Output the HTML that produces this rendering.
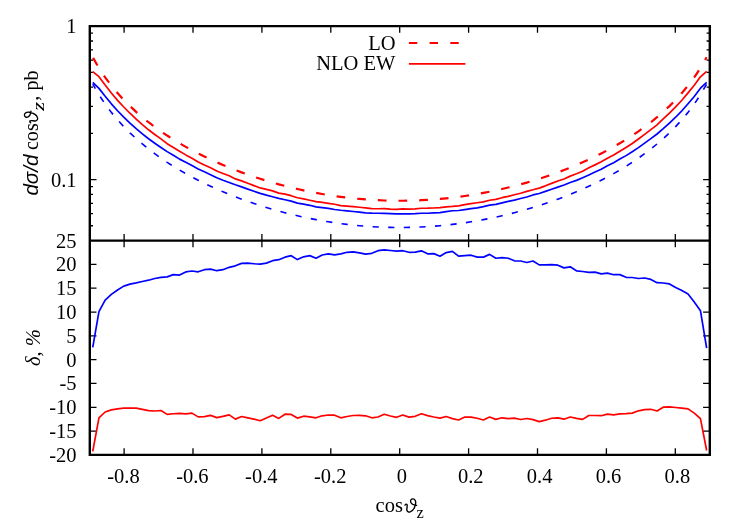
<!DOCTYPE html><html><head><meta charset="utf-8"><title>plot</title><style>html,body{margin:0;padding:0;background:#fff}svg{display:block;will-change:transform}text{font-family:"Liberation Serif",serif;fill:#000}.sn{font-family:"Liberation Sans",sans-serif;font-style:italic}</style></head><body>
<svg width="747" height="523" viewBox="0 0 747 523">
<rect width="747" height="523" fill="#fff"/>
<path d="M124.10 26.15v6.70M124.10 233.90v13.40M124.10 454.90v-6.70M193.00 26.15v6.70M193.00 233.90v13.40M193.00 454.90v-6.70M261.90 26.15v6.70M261.90 233.90v13.40M261.90 454.90v-6.70M330.80 26.15v6.70M330.80 233.90v13.40M330.80 454.90v-6.70M399.70 26.15v6.70M399.70 233.90v13.40M399.70 454.90v-6.70M468.60 26.15v6.70M468.60 233.90v13.40M468.60 454.90v-6.70M537.50 26.15v6.70M537.50 233.90v13.40M537.50 454.90v-6.70M606.40 26.15v6.70M606.40 233.90v13.40M606.40 454.90v-6.70M675.30 26.15v6.70M675.30 233.90v13.40M675.30 454.90v-6.70M89.80 33.17h3.20M709.80 33.17h-3.20M89.80 41.02h3.20M709.80 41.02h-3.20M89.80 49.91h3.20M709.80 49.91h-3.20M89.80 60.18h3.20M709.80 60.18h-3.20M89.80 72.33h3.20M709.80 72.33h-3.20M89.80 87.20h3.20M709.80 87.20h-3.20M89.80 106.36h3.20M709.80 106.36h-3.20M89.80 133.37h3.20M709.80 133.37h-3.20M89.80 179.55h6.70M709.80 179.55h-6.70M89.80 186.57h3.20M709.80 186.57h-3.20M89.80 194.42h3.20M709.80 194.42h-3.20M89.80 203.32h3.20M709.80 203.32h-3.20M89.80 213.59h3.20M709.80 213.59h-3.20M89.80 225.73h3.20M709.80 225.73h-3.20M89.80 431.09h6.70M709.80 431.09h-6.70M89.80 407.28h6.70M709.80 407.28h-6.70M89.80 383.47h6.70M709.80 383.47h-6.70M89.80 359.66h6.70M709.80 359.66h-6.70M89.80 335.84h6.70M709.80 335.84h-6.70M89.80 312.03h6.70M709.80 312.03h-6.70M89.80 288.22h6.70M709.80 288.22h-6.70M89.80 264.41h6.70M709.80 264.41h-6.70" stroke="#000" stroke-width="1.30" fill="none"/>
<g fill="none" stroke-linejoin="round">
<path d="M92.75 57.32 L98.95 68.00 L105.15 77.33 L111.35 85.62 L117.55 93.08 L123.76 99.87 L129.96 106.11 L136.16 111.87 L142.36 117.23 L148.56 122.24 L154.76 126.94 L160.96 131.37 L167.16 135.55 L173.36 139.51 L179.56 143.26 L185.77 146.83 L191.97 150.23 L198.17 153.47 L204.37 156.56 L210.57 159.51 L216.77 162.33 L222.97 165.02 L229.17 167.59 L235.37 170.05 L241.57 172.39 L247.78 174.63 L253.98 176.77 L260.18 178.81 L266.38 180.74 L272.58 182.59 L278.78 184.33 L284.98 185.99 L291.18 187.55 L297.38 189.02 L303.58 190.41 L309.79 191.70 L315.99 192.91 L322.19 194.03 L328.39 195.07 L334.59 196.01 L340.79 196.87 L346.99 197.65 L353.19 198.33 L359.39 198.94 L365.59 199.45 L371.80 199.88 L378.00 200.22 L384.20 200.48 L390.40 200.65 L396.60 200.74 L402.80 200.74 L409.00 200.65 L415.20 200.48 L421.40 200.22 L427.60 199.88 L433.81 199.45 L440.01 198.94 L446.21 198.33 L452.41 197.65 L458.61 196.87 L464.81 196.01 L471.01 195.07 L477.21 194.03 L483.41 192.91 L489.61 191.70 L495.82 190.41 L502.02 189.02 L508.22 187.55 L514.42 185.99 L520.62 184.33 L526.82 182.59 L533.02 180.74 L539.22 178.81 L545.42 176.77 L551.62 174.63 L557.83 172.39 L564.03 170.05 L570.23 167.59 L576.43 165.02 L582.63 162.33 L588.83 159.51 L595.03 156.56 L601.23 153.47 L607.43 150.23 L613.63 146.83 L619.84 143.26 L626.04 139.51 L632.24 135.55 L638.44 131.37 L644.64 126.94 L650.84 122.24 L657.04 117.23 L663.24 111.87 L669.44 106.11 L675.64 99.87 L681.85 93.08 L688.05 85.62 L694.25 77.33 L700.45 68.00 L706.65 57.32" stroke="#f00" stroke-width="2.2" stroke-dasharray="8.7 12" stroke-dashoffset="-0.7"/>
<path d="M92.75 84.07 L98.95 94.75 L105.15 104.08 L111.35 112.37 L117.55 119.83 L123.76 126.62 L129.96 132.86 L136.16 138.62 L142.36 143.98 L148.56 148.99 L154.76 153.69 L160.96 158.12 L167.16 162.30 L173.36 166.26 L179.56 170.01 L185.77 173.58 L191.97 176.98 L198.17 180.22 L204.37 183.31 L210.57 186.26 L216.77 189.08 L222.97 191.77 L229.17 194.34 L235.37 196.80 L241.57 199.14 L247.78 201.38 L253.98 203.52 L260.18 205.56 L266.38 207.49 L272.58 209.34 L278.78 211.08 L284.98 212.74 L291.18 214.30 L297.38 215.77 L303.58 217.16 L309.79 218.45 L315.99 219.66 L322.19 220.78 L328.39 221.82 L334.59 222.76 L340.79 223.62 L346.99 224.40 L353.19 225.08 L359.39 225.69 L365.59 226.20 L371.80 226.63 L378.00 226.97 L384.20 227.23 L390.40 227.40 L396.60 227.49 L402.80 227.49 L409.00 227.40 L415.20 227.23 L421.40 226.97 L427.60 226.63 L433.81 226.20 L440.01 225.69 L446.21 225.08 L452.41 224.40 L458.61 223.62 L464.81 222.76 L471.01 221.82 L477.21 220.78 L483.41 219.66 L489.61 218.45 L495.82 217.16 L502.02 215.77 L508.22 214.30 L514.42 212.74 L520.62 211.08 L526.82 209.34 L533.02 207.49 L539.22 205.56 L545.42 203.52 L551.62 201.38 L557.83 199.14 L564.03 196.80 L570.23 194.34 L576.43 191.77 L582.63 189.08 L588.83 186.26 L595.03 183.31 L601.23 180.22 L607.43 176.98 L613.63 173.58 L619.84 170.01 L626.04 166.26 L632.24 162.30 L638.44 158.12 L644.64 153.69 L650.84 148.99 L657.04 143.98 L663.24 138.62 L669.44 132.86 L675.64 126.62 L681.85 119.83 L688.05 112.37 L694.25 104.08 L700.45 94.75 L706.65 84.07" stroke="#00f" stroke-width="1.6" stroke-dasharray="6.2 9.4" stroke-dashoffset="0.9"/>
<path d="M92.75 71.56 L98.95 76.69 L105.15 85.09 L111.35 93.04 L117.55 100.34 L123.76 107.02 L129.96 113.24 L136.16 119.02 L142.36 124.57 L148.56 129.80 L154.76 134.54 L160.96 138.89 L167.16 143.69 L173.36 147.54 L179.56 151.23 L185.77 154.89 L191.97 158.16 L198.17 162.00 L204.37 165.04 L210.57 167.80 L216.77 170.97 L222.97 173.46 L229.17 175.81 L235.37 178.93 L241.57 180.86 L247.78 183.31 L253.98 185.65 L260.18 187.94 L266.38 189.43 L272.58 190.85 L278.78 193.10 L284.98 194.09 L291.18 195.69 L297.38 197.75 L303.58 198.83 L309.79 200.24 L315.99 201.59 L322.19 202.39 L328.39 203.30 L334.59 204.27 L340.79 205.55 L346.99 206.11 L353.19 206.64 L359.39 207.23 L365.59 207.81 L371.80 208.56 L378.00 208.77 L384.20 208.59 L390.40 209.04 L396.60 209.34 L402.80 208.97 L409.00 209.22 L415.20 208.92 L421.40 208.26 L427.60 208.21 L433.81 208.00 L440.01 207.66 L446.21 206.80 L452.41 206.45 L458.61 205.90 L464.81 204.58 L471.01 203.63 L477.21 202.78 L483.41 201.94 L489.61 200.25 L495.82 199.34 L502.02 197.70 L508.22 196.35 L514.42 194.71 L520.62 193.28 L526.82 191.37 L533.02 189.71 L539.22 188.09 L545.42 185.83 L551.62 183.38 L557.83 181.07 L564.03 178.95 L570.23 176.14 L576.43 173.79 L582.63 171.26 L588.83 167.82 L595.03 164.87 L601.23 161.81 L607.43 158.32 L613.63 155.05 L619.84 151.32 L626.04 147.52 L632.24 143.48 L638.44 138.94 L644.64 134.32 L650.84 129.58 L657.04 124.83 L663.24 118.88 L669.44 113.06 L675.64 106.93 L681.85 100.23 L688.05 92.89 L694.25 85.26 L700.45 76.82 L706.65 71.42" stroke="#f00" stroke-width="1.7"/>
<path d="M92.75 82.38 L98.95 88.35 L105.15 96.23 L111.35 103.81 L117.55 110.73 L123.76 117.05 L129.96 123.05 L136.16 128.67 L142.36 133.86 L148.56 138.71 L154.76 143.21 L160.96 147.51 L167.16 151.63 L173.36 155.31 L179.56 159.13 L185.77 162.32 L191.97 165.61 L198.17 168.94 L204.37 171.78 L210.57 174.66 L216.77 177.67 L222.97 180.24 L229.17 182.53 L235.37 184.81 L241.57 186.88 L247.78 189.08 L253.98 191.30 L260.18 193.38 L266.38 195.19 L272.58 196.76 L278.78 198.39 L284.98 199.76 L291.18 201.15 L297.38 203.07 L303.58 204.13 L309.79 205.29 L315.99 206.80 L322.19 207.55 L328.39 208.45 L334.59 209.52 L340.79 210.26 L346.99 210.85 L353.19 211.48 L359.39 212.20 L365.59 212.86 L371.80 213.20 L378.00 213.25 L384.20 213.41 L390.40 213.65 L396.60 213.82 L402.80 213.76 L409.00 213.86 L415.20 213.66 L421.40 213.26 L427.60 213.26 L433.81 212.81 L440.01 212.59 L446.21 211.57 L452.41 210.74 L458.61 210.52 L464.81 209.61 L471.01 208.60 L477.21 207.79 L483.41 206.67 L489.61 205.15 L495.82 204.30 L502.02 202.84 L508.22 201.44 L514.42 200.17 L520.62 198.54 L526.82 196.97 L533.02 194.95 L539.22 193.47 L545.42 191.43 L551.62 189.27 L557.83 187.09 L564.03 185.06 L570.23 182.47 L576.43 180.37 L582.63 177.76 L588.83 175.05 L595.03 172.07 L601.23 169.19 L607.43 165.86 L613.63 162.65 L619.84 159.07 L626.04 155.63 L632.24 151.70 L638.44 147.64 L644.64 143.15 L650.84 138.62 L657.04 134.00 L663.24 128.68 L669.44 123.02 L675.64 117.22 L681.85 110.80 L688.05 103.75 L694.25 96.45 L700.45 88.23 L706.65 82.49" stroke="#00f" stroke-width="1.7"/>
<path d="M92.75 347.40 L98.95 311.60 L105.15 300.10 L111.35 294.40 L117.55 290.00 L123.76 286.10 L129.96 284.10 L136.16 282.90 L142.36 281.50 L148.56 280.20 L154.76 278.50 L160.96 277.40 L167.16 276.90 L173.36 274.60 L179.56 275.10 L185.77 271.90 L191.97 271.00 L198.17 271.80 L204.37 269.70 L210.57 269.10 L216.77 270.70 L222.97 269.70 L229.17 267.30 L235.37 265.80 L241.57 263.40 L247.78 263.10 L253.98 263.75 L260.18 264.20 L266.38 263.10 L272.58 260.70 L278.78 259.70 L284.98 257.20 L291.18 255.70 L297.38 259.60 L303.58 256.80 L309.79 255.60 L315.99 258.25 L322.19 255.00 L328.39 253.90 L334.59 254.90 L340.79 253.90 L346.99 252.30 L353.19 251.80 L359.39 252.80 L365.59 254.10 L371.80 253.30 L378.00 250.70 L384.20 249.90 L390.40 250.50 L396.60 251.20 L402.80 250.70 L409.00 252.30 L415.20 252.10 L421.40 250.80 L427.60 253.80 L433.81 253.60 L440.01 256.20 L446.21 252.60 L452.41 251.30 L458.61 256.20 L464.81 255.70 L471.01 255.20 L477.21 257.10 L483.41 257.10 L489.61 254.40 L495.82 258.25 L502.02 257.60 L508.22 258.25 L514.42 260.80 L520.62 261.00 L526.82 262.50 L533.02 261.00 L539.22 264.90 L545.42 264.90 L551.62 264.70 L557.83 265.20 L564.03 267.90 L570.23 266.80 L576.43 270.80 L582.63 271.50 L588.83 272.40 L595.03 272.10 L601.23 273.90 L607.43 273.10 L613.63 274.70 L619.84 274.60 L626.04 277.30 L632.24 277.50 L638.44 278.50 L644.64 278.00 L650.84 279.40 L657.04 282.70 L663.24 283.00 L669.44 283.90 L675.64 287.50 L681.85 290.50 L688.05 293.90 L694.25 301.90 L700.45 310.70 L706.65 348.20" stroke="#00f" stroke-width="1.7"/>
<path d="M92.75 451.30 L98.95 417.90 L105.15 412.00 L111.35 409.90 L117.55 408.80 L123.76 408.10 L129.96 408.00 L136.16 408.10 L142.36 409.30 L148.56 410.70 L154.76 411.00 L160.96 410.50 L167.16 414.40 L173.36 413.75 L179.56 413.30 L185.77 413.90 L191.97 413.10 L198.17 416.90 L204.37 416.60 L210.57 415.40 L216.77 417.60 L222.97 416.30 L229.17 414.90 L235.37 419.10 L241.57 416.50 L247.78 417.80 L253.98 419.10 L260.18 420.70 L266.38 417.90 L272.58 415.20 L278.78 418.40 L284.98 414.20 L291.18 414.40 L297.38 418.10 L303.58 416.20 L309.79 416.90 L315.99 417.80 L322.19 415.80 L328.39 415.00 L334.59 415.20 L340.79 417.80 L346.99 416.50 L353.19 415.50 L359.39 415.40 L365.59 415.80 L371.80 417.80 L378.00 417.00 L384.20 414.20 L390.40 416.00 L396.60 417.30 L402.80 415.00 L409.00 417.10 L415.20 416.30 L421.40 413.80 L427.60 415.60 L433.81 417.00 L440.01 418.10 L446.21 416.50 L452.41 418.60 L458.61 420.00 L464.81 417.10 L471.01 417.10 L477.21 418.25 L483.41 420.00 L489.61 417.00 L495.82 419.40 L502.02 417.80 L508.22 418.60 L514.42 418.10 L520.62 419.50 L526.82 418.50 L533.02 419.60 L539.22 421.60 L545.42 420.20 L551.62 418.25 L557.83 417.80 L564.03 419.20 L570.23 417.00 L576.43 418.40 L582.63 419.40 L588.83 415.50 L595.03 415.50 L601.23 415.70 L607.43 414.10 L613.63 414.90 L619.84 413.90 L626.04 413.60 L632.24 413.10 L638.44 410.80 L644.64 409.55 L650.84 409.30 L657.04 411.00 L663.24 407.20 L669.44 406.85 L675.64 407.50 L681.85 408.10 L688.05 408.90 L694.25 413.10 L700.45 418.70 L706.65 450.50" stroke="#f00" stroke-width="1.7"/>
<path d="M408.9 43H465.4" stroke="#f00" stroke-width="2.2" stroke-dasharray="8.4 12.3"/>
<path d="M408.9 63.8H465.4" stroke="#f00" stroke-width="1.7"/>
</g>
<path d="M89.80 26.15H709.80V454.90H89.80ZM89.80 240.60H709.80" stroke="#000" stroke-width="2.40" fill="none" stroke-linejoin="miter"/>
<text x="123.50" y="483.25" font-size="20.5" text-anchor="middle">-0.8</text>
<text x="192.40" y="483.25" font-size="20.5" text-anchor="middle">-0.6</text>
<text x="261.30" y="483.25" font-size="20.5" text-anchor="middle">-0.4</text>
<text x="330.20" y="483.25" font-size="20.5" text-anchor="middle">-0.2</text>
<text x="401.80" y="483.25" font-size="20.5" text-anchor="middle">0</text>
<text x="470.70" y="483.25" font-size="20.5" text-anchor="middle">0.2</text>
<text x="539.60" y="483.25" font-size="20.5" text-anchor="middle">0.4</text>
<text x="608.50" y="483.25" font-size="20.5" text-anchor="middle">0.6</text>
<text x="677.40" y="483.25" font-size="20.5" text-anchor="middle">0.8</text>
<text x="76.6" y="33.10" font-size="20.5" text-anchor="end">1</text>
<text x="76.6" y="186.50" font-size="20.5" text-anchor="end">0.1</text>
<text x="76.6" y="461.85" font-size="20.5" text-anchor="end">-20</text>
<text x="76.6" y="438.04" font-size="20.5" text-anchor="end">-15</text>
<text x="76.6" y="414.23" font-size="20.5" text-anchor="end">-10</text>
<text x="76.6" y="390.42" font-size="20.5" text-anchor="end">-5</text>
<text x="76.6" y="366.61" font-size="20.5" text-anchor="end">0</text>
<text x="76.6" y="342.79" font-size="20.5" text-anchor="end">5</text>
<text x="76.6" y="318.98" font-size="20.5" text-anchor="end">10</text>
<text x="76.6" y="295.17" font-size="20.5" text-anchor="end">15</text>
<text x="76.6" y="271.36" font-size="20.5" text-anchor="end">20</text>
<text x="76.6" y="247.55" font-size="20.5" text-anchor="end">25</text>
<text x="395.6" y="49.8" font-size="20.5" text-anchor="end">LO</text>
<text x="395.4" y="70.4" font-size="20.5" text-anchor="end">NLO EW</text>
<text x="375.60" y="512.20" font-size="20.5">cos</text>
<path transform="translate(404.50,512.20) scale(1,.93)" d="M0.5-7.6Q1.6-9.3 2.5-8.3C3.2-6.8 2-3.8 2.4-2.1C2.8-.3 4.5.1 5.6-.3C8-1.1 10.2-4.8 11-8.8C11.6-11.8 10.6-14.3 8.4-14.4C6.7-14.5 5.8-12.7 6.2-10.9C6.8-8.7 9.5-7.7 12.1-7.3" fill="none" stroke="#000" stroke-width="1.4" stroke-linecap="round" stroke-linejoin="round"/>
<text x="416.60" y="517.80" font-size="16.4">z</text>
<g transform="translate(37.80,195.60) rotate(-90)">
<text class="sn" x="0" y="0" font-size="20.6">dσ/d</text>
<text x="45.50" y="0" font-size="20.2">cos</text>
<path transform="translate(72.30,0.00) scale(1,.93)" d="M0.5-7.6Q1.6-9.3 2.5-8.3C3.2-6.8 2-3.8 2.4-2.1C2.8-.3 4.5.1 5.6-.3C8-1.1 10.2-4.8 11-8.8C11.6-11.8 10.6-14.3 8.4-14.4C6.7-14.5 5.8-12.7 6.2-10.9C6.8-8.7 9.5-7.7 12.1-7.3" fill="none" stroke="#000" stroke-width="1.4" stroke-linecap="round" stroke-linejoin="round"/>
<text transform="translate(84.80,5.80) scale(1.3,1)" font-size="17.5" font-style="italic">z</text>
<text x="94.90" y="0" font-size="20.2">, pb</text>
</g>
<text transform="translate(39.9,366) rotate(-90)" font-size="20.5" font-style="italic">δ, %</text>
</svg></body></html>
